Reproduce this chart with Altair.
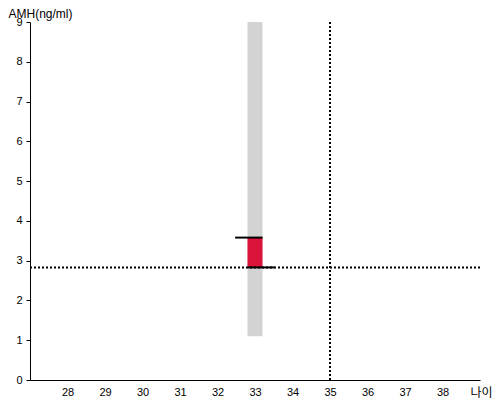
import altair as alt
import pandas as pd

# data
band_x = [32.8, 33.2]
band_y = [1.1, 9.0]
amh_low = 2.83
amh_high = 3.58
top_line_x = [32.47, 33.2]
bottom_line_x = [32.8, 33.53]
ref_age = 35
ref_amh = 2.83
x_ticks = list(range(28, 39))
y_ticks = list(range(0, 10))

FONT = "Liberation Sans"

xs = alt.Scale(domain=[27, 39], nice=False, zero=False)
ys = alt.Scale(domain=[0, 9], nice=False)

xaxis = alt.Axis(values=x_ticks, ticks=False, grid=False, labelPadding=6,
                 labelFont=FONT, labelFontSize=11, labelColor="black",
                 domainColor="black", title="나이", titleFont="Noto Sans CJK KR",
                 titleFontSize=12, titleFontWeight="normal", titleColor="black",
                 titleAlign="left", titleBaseline="middle", titleX=440, titleY=12)
yaxis = alt.Axis(values=y_ticks, tickSize=4, tickColor="black", grid=False,
                 labelPadding=4, labelFont=FONT, labelFontSize=11, labelColor="black",
                 labelOverlap=False,
                 domainColor="black", title="AMH(ng/ml)", titleFont=FONT,
                 titleFontSize=12, titleFontWeight="normal", titleColor="black",
                 titleAngle=0, titleAlign="left", titleBaseline="top",
                 titleX=-22, titleY=-14)

band_df = pd.DataFrame({"x": [band_x[0]], "x2": [band_x[1]], "y": [band_y[0]], "y2": [band_y[1]]})
red_df = pd.DataFrame({"x": [band_x[0]], "x2": [band_x[1]], "y": [amh_low], "y2": [amh_high]})
lines_df = pd.DataFrame({"x": [top_line_x[0], bottom_line_x[0]],
                         "x2": [top_line_x[1], bottom_line_x[1]],
                         "y": [amh_high, amh_low]})
hline_df = pd.DataFrame({"y": [ref_amh]})
vline_df = pd.DataFrame({"x": [ref_age]})

X = lambda: alt.X("x:Q", scale=xs, axis=xaxis)
Y = lambda: alt.Y("y:Q", scale=ys, axis=yaxis)

band = alt.Chart(band_df).mark_rect(color="#d3d3d3").encode(
    x=X(), x2="x2", y=Y(), y2="y2")
red = alt.Chart(red_df).mark_rect(color="#dc143c").encode(
    x=X(), x2="x2", y=Y(), y2="y2")
lines = alt.Chart(lines_df).mark_rule(color="black", strokeWidth=2).encode(
    x=X(), x2="x2", y=Y())
hline = alt.Chart(hline_df).mark_rule(color="black", strokeWidth=2, strokeDash=[2, 2]).encode(
    y=Y())
vline = alt.Chart(vline_df).mark_rule(color="black", strokeWidth=2, strokeDash=[2, 2]).encode(
    x=X())

chart = alt.layer(band, red, hline, vline, lines).properties(
    width=450, height=358,
    autosize=alt.AutoSizeParams(type="none"),
    padding={"left": 22, "top": 14, "right": 12, "bottom": 20},
).configure_view(stroke=None)

chart.save("out.html", embed_options={"renderer": "svg", "actions": False})
